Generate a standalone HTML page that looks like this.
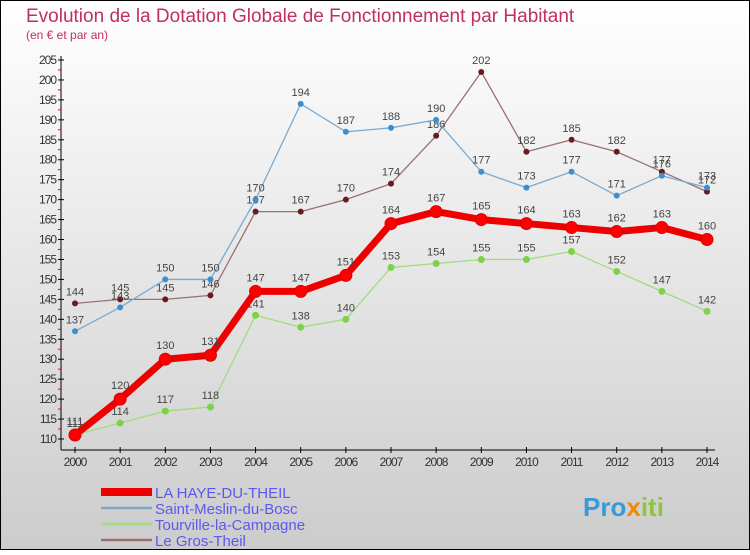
<!DOCTYPE html>
<html><head><meta charset="utf-8"><style>
body{margin:0;width:750px;height:550px;overflow:hidden;font-family:"Liberation Sans",sans-serif}
</style></head><body>
<svg id="chart" width="750" height="550" xmlns="http://www.w3.org/2000/svg">
<defs><linearGradient id="bg" x1="0" y1="0" x2="0" y2="1"><stop offset="0" stop-color="#ffffff"/><stop offset="1" stop-color="#cccccc"/></linearGradient></defs>
<rect x="0.5" y="0.5" width="749" height="549" fill="url(#bg)" stroke="#000"/>
<text x="26" y="22" font-size="19" fill="#c0305a">Evolution de la Dotation Globale de Fonctionnement par Habitant</text>
<text x="26" y="39" font-size="12" fill="#c0305a">(en € et par an)</text>
<g id="axes"></g><g id="series"></g><g id="legend"></g>
<text x="583" y="516" font-size="26" font-weight="bold" fill="#3a9ad9">Pro<tspan fill="#f08a00">x</tspan><tspan fill="#8cc63f">iti</tspan></text>
</svg>
<script>
const years=[2000,2001,2002,2003,2004,2005,2006,2007,2008,2009,2010,2011,2012,2013,2014];
const hayeValues=[111,120,130,131,147,147,151,164,167,165,164,163,162,163,160];
const meslinValues=[137,143,150,150,170,194,187,188,190,177,173,177,171,176,173];
const tourvilleValues=[111,114,117,118,141,138,140,153,154,155,155,157,152,147,142];
const grosTheilValues=[144,145,145,146,167,167,170,174,186,202,182,185,182,177,172];
const yTicks=[110,115,120,125,130,135,140,145,150,155,160,165,170,175,180,185,190,195,200,205];
const seriesNames=["LA HAYE-DU-THEIL","Saint-Meslin-du-Bosc","Tourville-la-Campagne","Le Gros-Theil"];
const NS="http://www.w3.org/2000/svg";
const xs=i=>75+i*(707-75)/(years.length-1);
const ys=v=>439-(v-110)*(439-60)/95;
function mk(tag,attrs,parent,text){const e=document.createElementNS(NS,tag);for(const k in attrs)e.setAttribute(k,attrs[k]);if(text!==undefined)e.textContent=text;parent.appendChild(e);return e;}
const axes=document.getElementById('axes');
let a=mk('line',{x1:61,y1:56,x2:61,y2:450,stroke:'#000'},axes);


a=mk('line',{x1:61,y1:450,x2:715,y2:450,stroke:'#000'},axes);


yTicks.forEach(v=>{const y=ys(v);
 mk('line',{x1:58,y1:y,x2:64,y2:y,stroke:'#000'},axes);
 if(v<205) mk('line',{x1:58,y1:y-10,x2:61,y2:y-10,stroke:'#e00'},axes);
 const t=mk('text',{x:56,y:y+4,'font-size':12,'text-anchor':'end',fill:'#333','letter-spacing':'-1'},axes,v);
 
 });
years.forEach((yr,i)=>{const x=xs(i);
 mk('line',{x1:x,y1:447,x2:x,y2:453,stroke:'#000'},axes);
 const t=mk('text',{x:x,y:466,'font-size':12,'text-anchor':'middle',fill:'#333','letter-spacing':'-1'},axes,yr);
 
 });
const ser=document.getElementById('series');
const defs=[[grosTheilValues,'#6b1a22','#9a7070',1.3,3,'le-gros-theil'],[meslinValues,'#3a8fd0','#7aaad0',1.3,3,'saint-meslin'],[tourvilleValues,'#7fd04a','#a0dc80',1.3,3.5,'tourville'],[hayeValues,'#ff0000','#ee0000',7,6,'la-haye-du-theil']];
defs.forEach(([vals,col,lcol,w,r,name])=>{
 const g=mk('g',{},ser);
 
 
 const pl=mk('polyline',{points:vals.map((v,i)=>xs(i)+','+ys(v)).join(' '),fill:'none',stroke:lcol,'stroke-width':w,'stroke-linejoin':'round'},g);
 
 
 vals.forEach((v,i)=>{
  const c=mk('circle',{cx:xs(i),cy:ys(v),r:r,fill:col,stroke:name==='la-haye-du-theil'?'#d00':'none'},g);
  
  
  const t=mk('text',{x:xs(i),y:ys(v)-(name==='la-haye-du-theil'?10:8),'font-size':11,'text-anchor':'middle',fill:'#444'},g,v);
  
  
 });
});
const lg=document.getElementById('legend');
const lcols=['#ee0000','#7aaad0','#a0dc80','#9a7070'],lw=[8,2.5,2.5,2.5];
seriesNames.forEach((n,i)=>{const y=492+i*16;
 const l=mk('line',{x1:101,y1:y,x2:152,y2:y,stroke:lcols[i],'stroke-width':lw[i]},lg);
 
 
 const t=mk('text',{x:155,y:y+6,'font-size':15,fill:'#5a5af0'},lg,n);
 
 });
</script>
</body></html>
